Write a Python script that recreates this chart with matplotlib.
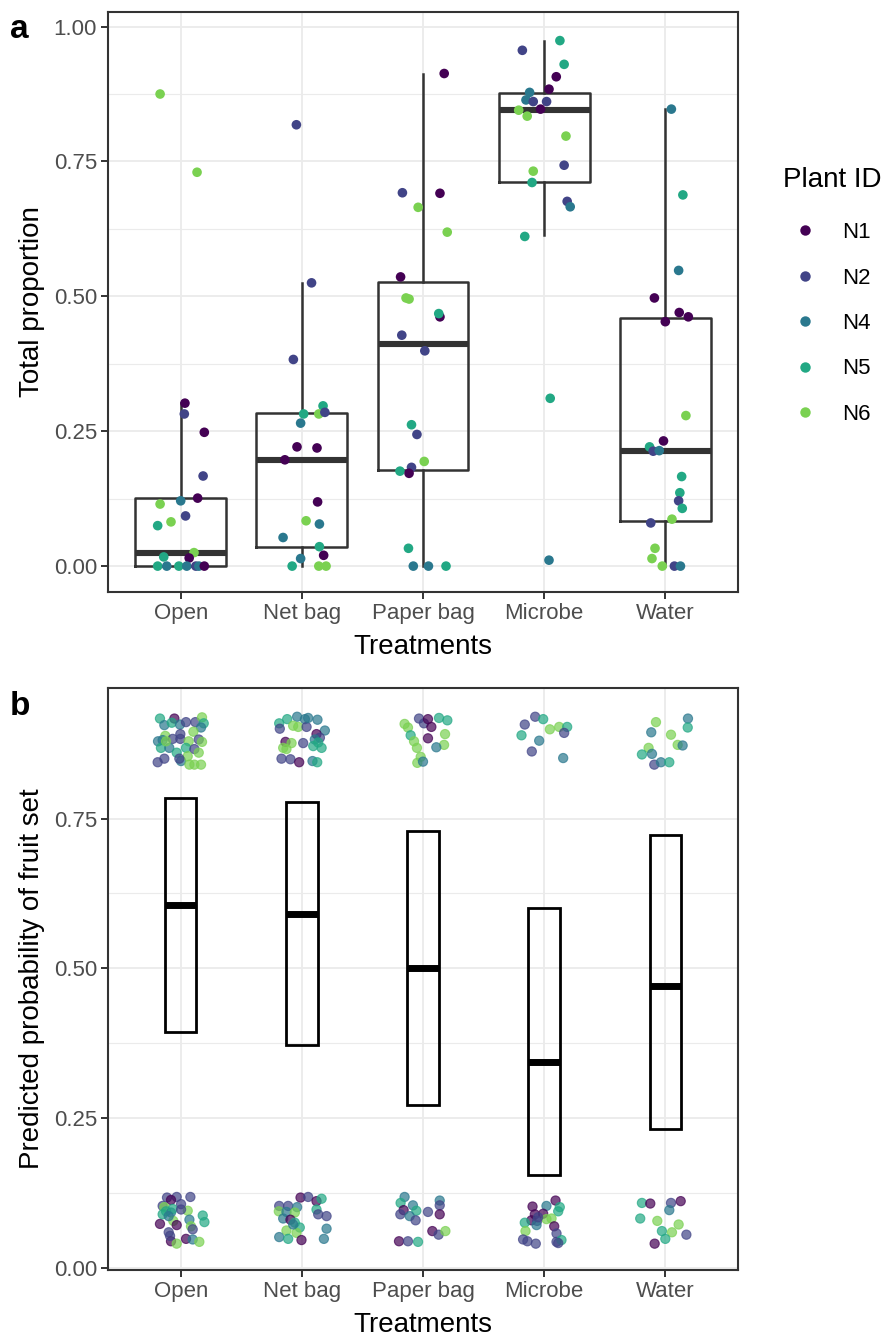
import matplotlib as mpl
import matplotlib.pyplot as plt
import numpy as np
from matplotlib.lines import Line2D

mpl.rcParams.update({'font.family': 'Liberation Sans', 'font.size': 16})

treatments = ["Open", "Net bag", "Paper bag", "Microbe", "Water"]
plants = ["N1", "N2", "N4", "N5", "N6"]
plant_colors = ["#440154", "#414487", "#2A788E", "#22A884", "#7AD151"]

# ---- panel a: total proportion per plant, jitter offsets
open_a_val = [0.875, 0.730, 0.302, 0.282, 0.248, 0.167, 0.121, 0.126, 0.115, 0.093, 0.082,
              0.075, 0.017, 0.025, 0.015, 0, 0, 0, 0, 0, 0, 0]
open_a_jit = [-0.17, 0.135, 0.035, 0.03, 0.195, 0.185, 0.0, 0.14, -0.17, 0.04, -0.08,
              -0.19, -0.14, 0.11, 0.07, -0.19, -0.115, -0.015, 0.05, 0.125, 0.15, 0.195]
open_a_id = "N6 N6 N1 N2 N1 N2 N4 N1 N6 N2 N6 N5 N5 N6 N1 N5 N4 N5 N4 N2 N4 N1".split()

net_a_val = [0.818, 0.525, 0.383, 0.297, 0.282, 0.282, 0.285, 0.265, 0.221, 0.219, 0.197,
             0.119, 0.084, 0.078, 0.053, 0.036, 0.020, 0.014, 0, 0, 0]
net_a_jit = [-0.045, 0.08, -0.07, 0.175, 0.015, 0.14, 0.19, -0.01, -0.04, 0.125, -0.14,
             0.13, 0.035, 0.145, -0.155, 0.145, 0.18, -0.01, -0.08, 0.14, 0.20]
net_a_id = "N2 N2 N2 N5 N5 N6 N2 N4 N1 N1 N1 N1 N6 N4 N4 N5 N1 N4 N5 N6 N6".split()

paper_a_val = [0.913, 0.692, 0.691, 0.665, 0.619, 0.536, 0.497, 0.495, 0.462, 0.468, 0.428,
               0.399, 0.262, 0.244, 0.194, 0.176, 0.183, 0.172, 0.033, 0, 0, 0]
paper_a_jit = [0.175, -0.17, 0.14, -0.04, 0.2, -0.185, -0.14, -0.115, 0.14, 0.13, -0.175,
               0.015, -0.095, -0.05, 0.01, -0.19, -0.095, -0.115, -0.12, -0.08, 0.045, 0.19]
paper_a_id = "N1 N2 N1 N6 N6 N1 N6 N6 N1 N5 N2 N2 N5 N2 N6 N5 N2 N1 N5 N4 N4 N5".split()

microbe_a_val = [0.974, 0.956, 0.930, 0.907, 0.884, 0.878, 0.864, 0.861, 0.861, 0.847, 0.845,
                 0.834, 0.797, 0.743, 0.732, 0.711, 0.676, 0.666, 0.611, 0.311, 0.011]
microbe_a_jit = [0.13, -0.18, 0.165, 0.10, 0.04, -0.12, -0.15, -0.09, 0.02, -0.03, -0.21,
                 -0.14, 0.18, 0.165, -0.09, -0.10, 0.19, 0.215, -0.16, 0.05, 0.04]
microbe_a_id = "N5 N2 N5 N1 N1 N4 N4 N2 N2 N1 N6 N6 N6 N2 N6 N5 N2 N4 N5 N5 N4".split()

water_a_val = [0.847, 0.688, 0.548, 0.497, 0.470, 0.462, 0.453, 0.279, 0.232, 0.221, 0.213,
               0.214, 0.166, 0.136, 0.121, 0.107, 0.080, 0.087, 0.033, 0.014, 0, 0, 0]
water_a_jit = [0.05, 0.145, 0.11, -0.09, 0.115, 0.19, 0.0, 0.17, -0.015, -0.13, -0.1,
               -0.05, 0.135, 0.12, 0.11, 0.14, -0.12, 0.055, -0.085, -0.11, -0.025, 0.075, 0.125]
water_a_id = "N4 N5 N4 N1 N1 N1 N1 N6 N1 N5 N2 N4 N5 N5 N2 N5 N2 N6 N6 N6 N6 N2 N4".split()

# boxplot statistics as drawn
box_q1 = [0.0, 0.036, 0.178, 0.711, 0.084]
box_med = [0.025, 0.197, 0.411, 0.846, 0.214]
box_q3 = [0.127, 0.283, 0.526, 0.877, 0.459]
whisk_lo = [0.0, 0.0, 0.0, 0.613, 0.0]
whisk_hi = [0.302, 0.525, 0.913, 0.974, 0.847]

# ---- panel b: predicted probability of fruit set
pred_lower = [0.394, 0.372, 0.271, 0.155, 0.232]
pred_mid = [0.606, 0.590, 0.501, 0.344, 0.471]
pred_upper = [0.784, 0.777, 0.730, 0.600, 0.723]

open_b_val = [0.917, 0.917, 0.906, 0.910, 0.907, 0.911, 0.911, 0.919, 0.909, 0.902, 0.888, 0.881,
              0.879, 0.891, 0.883, 0.879, 0.895, 0.882, 0.878, 0.883, 0.868, 0.868, 0.860, 0.868,
              0.866, 0.860, 0.844, 0.850, 0.846, 0.854, 0.840, 0.840, 0.840, 0.850, 0.879,
              0.117, 0.118, 0.118, 0.113, 0.103, 0.106, 0.101, 0.094, 0.092, 0.098, 0.095, 0.097,
              0.073, 0.078, 0.071, 0.080, 0.087, 0.076, 0.059, 0.069, 0.064, 0.044, 0.040, 0.048,
              0.047, 0.043, 0.089, 0.086, 0.053]
open_b_jit = [-0.171, -0.052, -0.135, -0.074, -0.006, 0.044, 0.121, 0.176, 0.190, 0.168, -0.127,
              -0.149, -0.187, -0.003, -0.003, 0.066, 0.105, 0.149, 0.176, -0.066, -0.163, -0.094,
              -0.033, 0.044, 0.113, 0.149, -0.190, -0.135, 0.003, 0.058, 0.072, 0.113, 0.168,
              -0.011, -0.121,
              -0.113, -0.033, 0.080, -0.080, -0.149, 0.003, -0.135, -0.121, -0.080, -0.066, 0.058,
              0.003, -0.171, -0.061, -0.033, 0.072, 0.182, 0.196, -0.099, 0.085, 0.099, -0.080,
              -0.033, 0.044, 0.099, 0.154, -0.149, -0.099, -0.088]
open_b_id = ("N5 N1 N4 N5 N4 N2 N2 N6 N5 N4 N6 N4 N4 N2 N2 N6 N6 N2 N6 N2 N5 N4 N5 N5 N2 N6 "
             "N2 N2 N4 N6 N6 N6 N6 N2 N6 "
             "N2 N2 N2 N1 N2 N2 N6 N5 N4 N5 N6 N2 N1 N6 N1 N4 N5 N5 N2 N6 N2 N1 N6 N1 N4 N6 "
             "N5 N4 N2").split()

net_b_val = [0.909, 0.916, 0.920, 0.916, 0.915, 0.900, 0.905, 0.903, 0.903, 0.897, 0.891, 0.885,
             0.882, 0.877, 0.868, 0.878, 0.876, 0.876, 0.868, 0.866, 0.850, 0.849, 0.844, 0.846,
             0.844, 0.871, 0.918,
             0.103, 0.103, 0.101, 0.117, 0.118, 0.111, 0.115, 0.097, 0.089, 0.086, 0.094, 0.093,
             0.092, 0.082, 0.080, 0.075, 0.067, 0.065, 0.062, 0.058, 0.051, 0.048, 0.046, 0.048,
             0.072]
net_b_jit = [-0.187, -0.121, -0.039, 0.025, 0.129, -0.182, -0.072, -0.030, 0.039, 0.190, 0.121,
             0.149, 0.107, 0.135, 0.163, -0.135, -0.085, 0.011, -0.154, -0.127, -0.168, -0.094,
             -0.022, 0.088, 0.127, 0.094, 0.052,
             -0.187, -0.113, -0.039, -0.011, 0.052, 0.121, 0.163, 0.121, 0.135, 0.204, -0.190,
             -0.127, -0.058, -0.154, -0.094, -0.058, -0.017, 0.204, -0.127, -0.044, -0.187,
             -0.113, -0.003, 0.182, -0.072]
net_b_id = ("N5 N5 N4 N4 N4 N2 N6 N6 N2 N4 N1 N2 N4 N5 N5 N1 N6 N2 N6 N6 N2 N2 N1 N4 N5 N5 N4 "
            "N2 N2 N4 N1 N2 N1 N5 N5 N2 N2 N6 N4 N6 N4 N1 N5 N5 N4 N6 N6 N4 N5 N1 N4 N4").split()

paper_b_val = [0.908, 0.902, 0.917, 0.909, 0.916, 0.903, 0.918, 0.914, 0.889, 0.879, 0.868, 0.884,
               0.891, 0.873, 0.869, 0.853, 0.843, 0.845,
               0.118, 0.108, 0.104, 0.096, 0.095, 0.089, 0.086, 0.079, 0.093, 0.112, 0.104, 0.089,
               0.061, 0.055, 0.061, 0.044, 0.044, 0.043]
paper_b_jit = [-0.152, -0.124, -0.033, 0.008, 0.041, 0.069, 0.132, 0.201, -0.102, -0.074, -0.050,
               0.041, 0.182, 0.174, 0.110, -0.019, -0.047, 0.0,
               -0.152, -0.185, -0.083, -0.160, -0.055, -0.187, -0.110, -0.061, 0.041, 0.138, 0.138,
               0.138, 0.077, 0.129, 0.185, -0.198, -0.124, -0.041]
paper_b_id = ("N6 N6 N2 N2 N1 N1 N5 N5 N5 N6 N6 N1 N6 N6 N4 N6 N6 N4 "
              "N4 N5 N4 N1 N5 N2 N4 N2 N2 N4 N2 N1 N1 N2 N6 N1 N2 N5").split()

microbe_b_val = [0.907, 0.920, 0.916, 0.889, 0.899, 0.903, 0.903, 0.893, 0.880, 0.862, 0.851,
                 0.102, 0.103, 0.112, 0.101, 0.094, 0.089, 0.090, 0.079, 0.078, 0.071, 0.075,
                 0.081, 0.082, 0.069, 0.061, 0.057, 0.047, 0.044, 0.040, 0.043, 0.046, 0.041, 0.084]
microbe_b_jit = [-0.160, -0.074, -0.008, -0.187, 0.047, 0.124, 0.190, 0.165, -0.041, -0.102, 0.157,
                 -0.096, 0.019, 0.094, 0.129, 0.116, -0.077, -0.008, -0.105, -0.058, -0.063, -0.160,
                 0.019, 0.061, 0.083, -0.154, 0.102, -0.174, -0.138, -0.069, 0.102, 0.143, 0.116,
                 -0.050]
microbe_b_id = ("N2 N2 N5 N5 N6 N6 N5 N2 N4 N2 N4 "
                "N1 N4 N1 N5 N5 N1 N1 N1 N2 N4 N5 N6 N6 N1 N6 N2 N2 N2 N2 N2 N5 N2 N2").split()

water_b_val = [0.911, 0.894, 0.890, 0.917, 0.902, 0.868, 0.857, 0.858, 0.873, 0.872, 0.840, 0.844,
               0.844,
               0.108, 0.107, 0.108, 0.111, 0.096, 0.082, 0.078, 0.072, 0.061, 0.059, 0.048, 0.055,
               0.040]
water_b_jit = [-0.077, -0.116, 0.047, 0.187, 0.185, -0.138, -0.193, -0.110, 0.102, 0.143, -0.091,
               -0.036, 0.033,
               -0.193, -0.124, 0.047, 0.127, 0.033, -0.207, -0.066, 0.110, -0.028, 0.055, 0.0,
               0.174, -0.088]
water_b_id = ("N6 N4 N6 N4 N5 N6 N5 N4 N6 N4 N2 N4 N5 "
              "N5 N1 N2 N1 N4 N5 N6 N6 N5 N6 N5 N2 N1").split()

a_vals = [open_a_val, net_a_val, paper_a_val, microbe_a_val, water_a_val]
a_jits = [open_a_jit, net_a_jit, paper_a_jit, microbe_a_jit, water_a_jit]
a_ids = [open_a_id, net_a_id, paper_a_id, microbe_a_id, water_a_id]
b_vals = [open_b_val, net_b_val, paper_b_val, microbe_b_val, water_b_val]
b_jits = [open_b_jit, net_b_jit, paper_b_jit, microbe_b_jit, water_b_jit]
b_ids = [open_b_id, net_b_id, paper_b_id, microbe_b_id, water_b_id]

color_of = dict(zip(plants, plant_colors))
frame_col = '#333333'
grid_col = '#EBEBEB'
xpos = np.arange(1, len(treatments) + 1)

W, H = 887, 1337
fig = plt.figure(figsize=(W / 100, H / 100), dpi=100)
ax_a = fig.add_axes([108 / W, 1 - 592 / H, 630 / W, 580 / H])
ax_b = fig.add_axes([108 / W, 1 - 1270 / H, 630 / W, 582 / H])


def style_axis(ax, yticks, ylim):
    ax.set_xlim(0.4, 5.6)
    ax.set_ylim(*ylim)
    ax.set_xticks(xpos, treatments)
    ax.set_yticks(yticks, [f"{t:.2f}" for t in yticks])
    minor = [(a + b) / 2 for a, b in zip(yticks[:-1], yticks[1:])]
    ax.set_yticks(minor, minor=True)
    ax.grid(True, which='major', color=grid_col, lw=1.3, zorder=0)
    ax.grid(True, which='minor', axis='y', color=grid_col, lw=0.8, zorder=0)
    ax.tick_params(which='major', length=5, width=1.4, color=frame_col,
                   labelsize=16, labelcolor='#4D4D4D', pad=3)
    ax.tick_params(which='minor', length=0)
    ax.set_axisbelow(True)
    for sp in ax.spines.values():
        sp.set_color(frame_col)
        sp.set_linewidth(1.5)
    ax.set_xlabel("Treatments", fontsize=20, labelpad=7)


# ---- panel a
stats = []
for i in range(len(treatments)):
    stats.append({'q1': box_q1[i], 'med': box_med[i], 'q3': box_q3[i],
                  'whislo': whisk_lo[i], 'whishi': whisk_hi[i], 'fliers': []})
line_kw = dict(color=frame_col, lw=1.8)
ax_a.bxp(stats, positions=xpos, widths=0.75, showcaps=False, showfliers=False,
         boxprops=line_kw, whiskerprops=line_kw,
         medianprops=dict(color=frame_col, lw=4.4, solid_capstyle='butt'),
         zorder=2)
for i in range(len(treatments)):
    ax_a.scatter(xpos[i] + np.array(a_jits[i]), a_vals[i],
                 c=[color_of[p] for p in a_ids[i]], s=48, lw=0, zorder=3)
style_axis(ax_a, [0, 0.25, 0.5, 0.75, 1.0], (-0.048, 1.027))
ax_a.set_ylabel("Total proportion", fontsize=20, labelpad=6)

handles = [Line2D([], [], ls='', marker='o', ms=7.5, mew=0, color=c) for c in plant_colors]
leg = ax_a.legend(handles, plants, title="Plant ID", loc='upper left',
                  bbox_to_anchor=(763 / W, 1 - 147 / H), bbox_transform=fig.transFigure,
                  frameon=False, fontsize=16, title_fontsize=20, handlelength=2.0,
                  handletextpad=0.65, labelspacing=1.1)
leg._legend_box.align = 'left'
leg._legend_box.sep = 21

# ---- panel b
ax_b.bar(xpos, np.array(pred_upper) - np.array(pred_lower), bottom=pred_lower, width=0.26,
         fill=False, edgecolor='black', lw=2.0, zorder=2)
ax_b.hlines(pred_mid, xpos - 0.13, xpos + 0.13, color='black', lw=5.0, zorder=3)
for i in range(len(treatments)):
    ax_b.scatter(xpos[i] + np.array(b_jits[i]), b_vals[i],
                 c=[color_of[p] for p in b_ids[i]], s=44, lw=0.8, alpha=0.7, zorder=3)
style_axis(ax_b, [0, 0.25, 0.5, 0.75], (-0.004, 0.968))
ax_b.set_ylabel("Predicted probability of fruit set", fontsize=20, labelpad=6)

fig.text(10 / W, 1 - 30 / H, "a", fontsize=24, fontweight='bold', va='center')
fig.text(10 / W, 1 - 707 / H, "b", fontsize=24, fontweight='bold', va='center')

fig.savefig('out.png', dpi=100)
